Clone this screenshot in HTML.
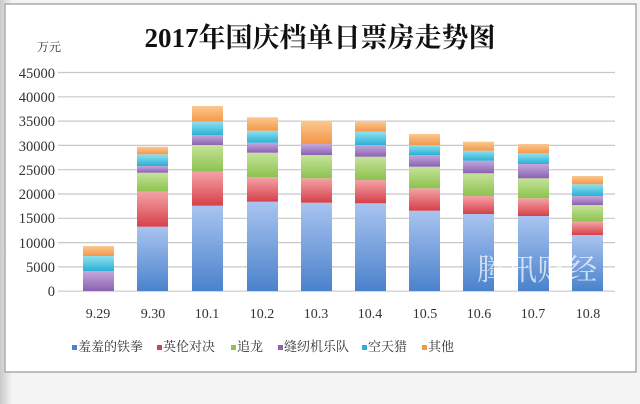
<!DOCTYPE html>
<html><head><meta charset="utf-8"><style>
body{margin:0;background:#f4f4f4;}
svg{display:block}
text{font-family:"Liberation Serif","Noto Serif CJK SC",serif;fill:#333}
</style></head><body>
<svg width="640" height="404" viewBox="0 0 640 404">
<defs>
<linearGradient id="lg" x1="0" y1="0" x2="1" y2="0"><stop offset="0" stop-color="#c9c9c9"/><stop offset="1" stop-color="#f4f4f4"/></linearGradient>
<linearGradient id="b" x1="0" y1="0" x2="0" y2="1"><stop offset="0" stop-color="#a9c4f0"/><stop offset="1" stop-color="#4a82cc"/></linearGradient>
<linearGradient id="r" x1="0" y1="0" x2="0" y2="1"><stop offset="0" stop-color="#f4a3a6"/><stop offset="1" stop-color="#d6404a"/></linearGradient>
<linearGradient id="g" x1="0" y1="0" x2="0" y2="1"><stop offset="0" stop-color="#c6e39a"/><stop offset="1" stop-color="#8cc24e"/></linearGradient>
<linearGradient id="p" x1="0" y1="0" x2="0" y2="1"><stop offset="0" stop-color="#c4a8dc"/><stop offset="1" stop-color="#8a62b0"/></linearGradient>
<linearGradient id="c" x1="0" y1="0" x2="0" y2="1"><stop offset="0" stop-color="#8fe0f0"/><stop offset="1" stop-color="#2bb0d4"/></linearGradient>
<linearGradient id="o" x1="0" y1="0" x2="0" y2="1"><stop offset="0" stop-color="#fbc890"/><stop offset="1" stop-color="#f3984a"/></linearGradient>
</defs>
<rect x="0" y="0" width="640" height="404" fill="#f4f4f4"/>
<rect x="0" y="0" width="12" height="404" fill="url(#lg)"/>
<rect x="5" y="4" width="631" height="368" fill="#fff" stroke="#aaa" stroke-width="1.5"/>
<text x="320" y="47" text-anchor="middle" font-size="27" font-weight="bold" style="fill:#111">2017年国庆档单日票房走势图</text>
<text x="37" y="51" font-size="12">万元</text>
<g stroke="#c8c8c8" stroke-width="1.2">
<line x1="58" y1="72.5" x2="615" y2="72.5"/><line x1="58" y1="96.8" x2="615" y2="96.8"/><line x1="58" y1="121.1" x2="615" y2="121.1"/><line x1="58" y1="145.4" x2="615" y2="145.4"/><line x1="58" y1="169.7" x2="615" y2="169.7"/><line x1="58" y1="194" x2="615" y2="194"/><line x1="58" y1="218.3" x2="615" y2="218.3"/><line x1="58" y1="242.6" x2="615" y2="242.6"/><line x1="58" y1="266.9" x2="615" y2="266.9"/><line x1="58" y1="291.2" x2="615" y2="291.2"/>
</g>
<g font-size="14.5" text-anchor="end">
<text x="55" y="78">45000</text><text x="55" y="102">40000</text><text x="55" y="126">35000</text><text x="55" y="151">30000</text><text x="55" y="175">25000</text><text x="55" y="199">20000</text><text x="55" y="223">15000</text><text x="55" y="248">10000</text><text x="55" y="272">5000</text><text x="55" y="296">0</text>
</g>
<g id="bars"></g>
<g font-size="14" text-anchor="middle">
<text x="98" y="318">9.29</text><text x="153" y="318">9.30</text><text x="207" y="318">10.1</text><text x="262" y="318">10.2</text><text x="316" y="318">10.3</text><text x="370" y="318">10.4</text><text x="425" y="318">10.5</text><text x="479" y="318">10.6</text><text x="533" y="318">10.7</text><text x="588" y="318">10.8</text>
</g>
<g font-size="13">
<rect x="72" y="345" width="5" height="5" fill="#4a82cc"/><text x="78" y="351">羞羞的铁拳</text>
<rect x="157" y="345" width="5" height="5" fill="#d6404a"/><text x="163" y="351">英伦对决</text>
<rect x="231" y="345" width="5" height="5" fill="#8cc24e"/><text x="237" y="351">追龙</text>
<rect x="278" y="345" width="5" height="5" fill="#8a62b0"/><text x="284" y="351">缝纫机乐队</text>
<rect x="362" y="345" width="5" height="5" fill="#2bb0d4"/><text x="368" y="351">空天猎</text>
<rect x="422" y="345" width="5" height="5" fill="#f3984a"/><text x="428" y="351">其他</text>
</g>
<g id="wm"><text x="477" y="280" font-size="30" style="fill:rgba(255,255,255,0.7)">腾讯财经</text></g>
</svg>
<script>
var d=[[83,291,291,291,271,256,246],[137,226.7,191.7,172.7,166,154.3,146.7],[192,205.7,171.7,145,135,121.7,106],[247,201.7,177.3,152.7,142.7,130.7,117.3],[301,202.7,178.3,155,144,143,120.7],[355,203.3,180,156.7,145,131.7,121.7],[409,210.7,188.3,166.7,155,145,134],[463,214,196,173.3,160.7,150.7,141.7],[518,216,198.3,178.3,164,153.3,144],[572,235,221.7,205,196,184.3,176]];
var ids=['b','r','g','p','c','o'],s='';
d.forEach(function(e){var prev=291;for(var i=0;i<6;i++){var t=e[i+1];if(prev-t>0.1)s+='<rect x="'+e[0]+'" y="'+t+'" width="31" height="'+(prev-t)+'" fill="url(#'+ids[i]+')"/>';prev=t;}});
document.getElementById('bars').innerHTML=s;
</script>
</body></html>
